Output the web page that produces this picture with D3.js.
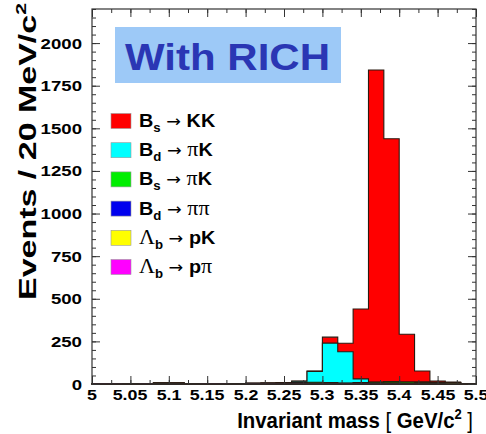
<!DOCTYPE html>
<html>
<head>
<meta charset="utf-8">
<script src="https://cdn.jsdelivr.net/npm/d3@7"></script>
<style>
  html, body { margin: 0; padding: 0; background: #fff; }
  svg { display: block; font-family: 'Liberation Sans', Arial, sans-serif; }
</style>
</head>
<body>
<div id="chart"></div>
<script>
// lower bin edges, 20 MeV bins
const massBins = [5.00, 5.02, 5.04, 5.06, 5.08, 5.10, 5.12, 5.14, 5.16, 5.18,
  5.20, 5.22, 5.24, 5.26, 5.28, 5.30, 5.32, 5.34, 5.36, 5.38,
  5.40, 5.42, 5.44, 5.46, 5.48]
const binWidth = 0.02

// events per bin, stacked bottom -> top
const lbPpi = [1, 1, 2, 1, 2, 3, 2, 1, 1, 2, 1, 1, 1, 1, 1, 1, 1, 1, 1, 1, 0, 0, 0, 0, 0]
const lbPK  = [1, 2, 1, 2, 3, 2, 1, 2, 2, 1, 2, 2, 3, 3, 2, 2, 2, 3, 3, 4, 4, 5, 6, 8, 2]
const bdPiPi = [0, 0, 0, 0, 0, 0, 0, 0, 0, 0, 1, 1, 2, 3, 3, 2, 1, 0, 0, 0, 0, 0, 0, 0, 0]
const bsPiK = [0, 0, 0, 0, 0, 0, 0, 0, 0, 0, 0, 1, 2, 3, 4, 3, 2, 4, 6, 8, 8, 6, 3, 1, 0]
const bdPiK = [0, 0, 0, 0, 0, 0, 0, 0, 0, 0, 0, 0, 1, 6, 64, 232, 183, 22, 2, 1, 0, 0, 0, 0, 0]
const bsKK  = [0, 0, 0, 0, 0, 0, 0, 0, 0, 0, 0, 0, 0, 1, 2, 35, 50, 410, 1830, 1425, 280, 65, 8, 2, 0]

const yTicks = [0, 250, 500, 750, 1000, 1250, 1500, 1750, 2000]
const xTicks = [5, 5.05, 5.1, 5.15, 5.2, 5.25, 5.3, 5.35, 5.4, 5.45, 5.5]

// stack order (bottom first)
const stackSeries = [
  { id: 'lbPpi', values: lbPpi, color: '#ff00ff' },
  { id: 'lbPK', values: lbPK, color: '#ffff00' },
  { id: 'bdPiPi', values: bdPiPi, color: '#0000ee' },
  { id: 'bsPiK', values: bsPiK, color: '#00ee00' },
  { id: 'bdPiK', values: bdPiK, color: '#00ffff' },
  { id: 'bsKK', values: bsKK, color: '#ff0000' }
]

// legend rows: parent, subscript, final state (t = text, s = symbol)
const legendRows = [
  { color: '#ff0000', parent: 'B', sub: 's', fin: [['t', 'KK']] },
  { color: '#00ffff', parent: 'B', sub: 'd', fin: [['s', 'π'], ['t', 'K']] },
  { color: '#00ee00', parent: 'B', sub: 's', fin: [['s', 'π'], ['t', 'K']] },
  { color: '#0000ee', parent: 'B', sub: 'd', fin: [['s', 'ππ']] },
  { color: '#ffff00', parent: 'Λ', sub: 'b', fin: [['t', 'pK']] },
  { color: '#ff00ff', parent: 'Λ', sub: 'b', fin: [['t', 'p'], ['s', 'π']] }
]

const width = 486, height = 434
const margin = { top: 9, right: 10, bottom: 50, left: 92 }

const svg = d3.select('#chart').append('svg')
  .attr('width', width)
  .attr('height', height)

const x = d3.scaleLinear().domain([5, 5.5]).range([margin.left, width - margin.right])
const y = d3.scaleLinear().domain([0, 2200]).range([height - margin.bottom, margin.top])

// stretch text horizontally to mimic the wide raster
const stretch = (sel, k) => sel.each(function () {
  const w = this.getComputedTextLength()
  d3.select(this).attr('textLength', w * k).attr('lengthAdjust', 'spacingAndGlyphs')
})

// cumulative stacks
let running = massBins.map(() => 0)
const cumul = stackSeries.map(s => {
  running = running.map((v, i) => v + s.values[i])
  return { ...s, cum: running.slice() }
})

const area = d3.area()
  .curve(d3.curveStepAfter)
  .x(d => x(d[0]))
  .y0(y(0))
  .y1(d => y(d[1]))

const hist = svg.append('g').attr('class', 'hist')
hist.selectAll('path')
  .data(cumul.slice().reverse())
  .join('path')
  .attr('d', s => {
    const pts = massBins.map((m, i) => [m, s.cum[i]])
    pts.push([massBins[massBins.length - 1] + binWidth, s.cum[s.cum.length - 1]])
    return area(pts)
  })
  .attr('fill', s => s.color)
  .attr('stroke', '#2a1a10')
  .attr('stroke-width', 1.1)

// frame + axes (ticks inside)
const axes = svg.append('g').attr('class', 'axes')
const minorY = d3.range(0, 2201, 50)
const minorX = d3.range(0, 21).map(i => 5 + i * 0.025)

const tickSet = (axisFn, pos, scale, values, size) => axes.append('g')
  .attr('transform', pos)
  .call(axisFn(scale).tickValues(values).tickSize(size).tickFormat(''))
  .call(g => g.select('.domain').remove())

const posLeft = `translate(${margin.left},0)`
const posRight = `translate(${width - margin.right},0)`
const posTop = `translate(0,${margin.top})`
const posBottom = `translate(0,${height - margin.bottom})`
tickSet(d3.axisRight, posLeft, y, minorY, 4)
tickSet(d3.axisRight, posLeft, y, yTicks, 8)
tickSet(d3.axisLeft, posRight, y, minorY, 4)
tickSet(d3.axisLeft, posRight, y, yTicks, 8)
tickSet(d3.axisBottom, posTop, x, minorX, 4)
tickSet(d3.axisBottom, posTop, x, xTicks, 8)
tickSet(d3.axisTop, posBottom, x, minorX, 4)
tickSet(d3.axisTop, posBottom, x, xTicks, 8)
axes.selectAll('line').attr('stroke', '#333')

axes.append('rect')
  .attr('x', margin.left).attr('y', margin.top)
  .attr('width', width - margin.right - margin.left)
  .attr('height', height - margin.bottom - margin.top)
  .attr('fill', 'none').attr('stroke', '#333').attr('stroke-width', 1.2)

// tick labels
svg.append('g').selectAll('text')
  .data(yTicks)
  .join('text')
  .attr('x', 82)
  .attr('y', d => y(d) + 5.5)
  .attr('text-anchor', 'end')
  .attr('font-size', 15.5)
  .attr('font-weight', 'bold')
  .text(d => d)
  .call(stretch, 1.2)

svg.append('g').selectAll('g')
  .data(xTicks)
  .join('g')
  .attr('transform', d => `translate(${Math.round(x(d))},400) scale(1.15,1)`)
  .append('text')
  .attr('text-anchor', 'middle')
  .attr('font-size', 15.5)
  .attr('font-weight', 'bold')
  .attr('fill', '#000')
  .text(d => d)

// axis titles
const xtG = svg.append('g')
const xt = xtG.append('text')
  .attr('text-anchor', 'end')
  .attr('font-size', 22)
  .attr('font-weight', 'bold')
  .attr('fill', '#000')
xt.append('tspan').text('Invariant mass  ')
xt.append('tspan').attr('font-weight', 'normal').text('[ ')
xt.append('tspan').text('GeV/c')
xt.append('tspan').attr('font-size', 14).attr('dy', -9).text('2')
xt.append('tspan').attr('dy', 9).attr('font-weight', 'normal').text(' ]')
const xtW = xt.node().getBBox().width
xtG.attr('transform', `translate(473,428) scale(${236 / xtW},1)`)

const yt = svg.append('text')
  .attr('transform', 'translate(36,3) rotate(-90)')
  .attr('text-anchor', 'end')
  .attr('font-size', 24)
  .attr('font-weight', 'bold')
yt.append('tspan').text('Events  /  20 MeV/c')
yt.append('tspan').attr('font-size', 15).attr('dy', -10).text('2')
yt.attr('textLength', 297).attr('lengthAdjust', 'spacingAndGlyphs')

// title box
svg.append('rect')
  .attr('x', 115).attr('y', 27)
  .attr('width', 226).attr('height', 56)
  .attr('fill', '#9dc9f7')
svg.append('text')
  .attr('x', 125).attr('y', 70)
  .attr('font-size', 36)
  .attr('font-weight', 'bold')
  .attr('fill', '#2a36b4')
  .attr('textLength', 205)
  .attr('lengthAdjust', 'spacingAndGlyphs')
  .text('With RICH')

// legend
const legend = svg.append('g').attr('class', 'legend')
const row = legend.selectAll('g')
  .data(legendRows)
  .join('g')
  .attr('transform', (d, i) => `translate(111,${121 + i * 29.2})`)

row.append('rect')
  .attr('x', 0).attr('y', -7.5)
  .attr('width', 20).attr('height', 15)
  .attr('fill', d => d.color)
  .attr('stroke', '#999').attr('stroke-width', 0.6)

row.append('text')
  .attr('x', 28).attr('y', 6)
  .attr('font-size', 18)
  .each(function (d) {
    const t = d3.select(this)
    if (d.parent === 'B') {
      t.append('tspan').attr('font-weight', 'bold').text('B')
    } else {
      t.append('tspan').attr('font-family', "'Liberation Serif', serif").attr('font-size', 20).text('Λ')
    }
    t.append('tspan').attr('font-weight', 'bold').attr('font-size', 12).attr('dy', 5).text(d.sub)
    t.append('tspan').attr('dy', -5).attr('font-family', "'DejaVu Sans', sans-serif").attr('font-size', 16).text(' → ')
    d.fin.forEach(([kind, str]) => {
      if (kind === 's') {
        t.append('tspan').attr('font-family', "'Liberation Serif', serif").attr('font-size', 20).text(str)
      } else {
        t.append('tspan').attr('font-weight', 'bold').text(str)
      }
    })
  })
  .call(stretch, 1.1)
</script>
</body>
</html>
